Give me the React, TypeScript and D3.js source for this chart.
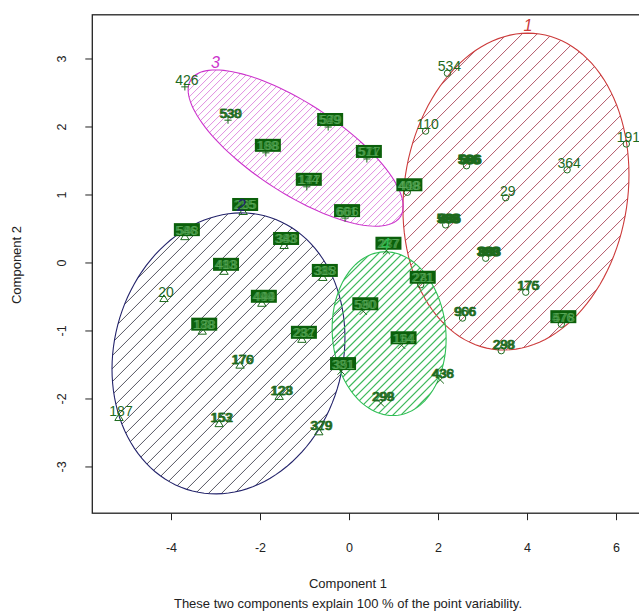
import React from "react";
import * as d3 from "d3";

const W = 639;
const H = 614;

const xTicks = [-4, -2, 0, 2, 4, 6];
const yTicks = [-3, -2, -1, 0, 1, 2, 3];
const xTitle = "Component 1";
const yTitle = "Component 2";
const subTitle = "These two components explain 100 % of the point variability.";

// clusters
const clusterIds = ["1", "2", "3", "4"];
const ellipseCx = [3.74, -2.72, -1.21, 0.89];
const ellipseCy = [1.05, -1.33, 1.69, -1.04];
const ellipseSxx = [6.45, 6.85, 5.84, 1.64];
const ellipseSyy = [5.43, 4.27, 1.32, 1.45];
const ellipseSxy = [0.63, 0.6, -2.07, -0.1];

const clusterColors = ["#cc3b3b", "#23236b", "#cc33cc", "#2fbf55"];
const hatchColors = ["#a03045", "#2a2a3a", "#d25ed2", "#3cb85a"];
const hatchSpacing = [15, 13, 7, 8];
const hatchWidths = [0.8, 0.8, 0.7, 1.2];

// points
const pointX = [2.2, 1.71, 6.22, 4.89, 3.51, 2.63, 1.3, 2.16, 3.06, 1.6, 3.96, 2.54, 4.76, 3.41,
  0.83, 0.31, 1.17, -0.19, 2.04, 0.7,
  -3.7, -2.73, -1.88, -0.48, -0.96, 0.39, -0.1,
  -2.39, -3.7, -2.82, -1.47, -1.97, -0.6, -4.17, -3.31, -2.46, -1.07, -1.58, -2.93, -0.69, -5.18];
const pointY = [2.79, 1.94, 1.75, 1.37, 0.96, 1.43, 1.04, 0.56, 0.07, -0.32, -0.43, -0.81, -0.9, -1.29,
  0.18, -0.71, -1.21, -1.59, -1.72, -2.06,
  2.59, 2.1, 1.62, 2.0, 1.12, 1.53, 0.66,
  0.75, 0.38, -0.13, 0.25, -0.6, -0.22, -0.53, -1.01, -1.51, -1.13, -1.97, -2.37, -2.49, -2.28];
const pointCluster = [1, 1, 1, 1, 1, 1, 1, 1, 1, 1, 1, 1, 1, 1,
  4, 4, 4, 4, 4, 4,
  3, 3, 3, 3, 3, 3, 3,
  2, 2, 2, 2, 2, 2, 2, 2, 2, 2, 2, 2, 2, 2];
const pointLabels = [
  ["534"], ["110"], ["191"], ["364"], ["29"], ["566", "586", "686"],
  ["408", "418", "448", "488", "409"], ["588", "688", "486"], ["388", "888", "383"],
  ["221", "241", "271", "281"], ["176", "175"], ["966", "906"],
  ["476", "478", "576", "578"], ["288", "298"],
  ["227", "237", "257", "277"], ["530", "550", "590", "580"], ["114", "144", "154", "164"],
  ["321", "351", "381", "391"], ["436", "438"], ["299", "298"],
  ["426"], ["538", "530"], ["188", "168", "108", "198"], ["529", "549", "569", "579"],
  ["144", "147", "174", "177"], ["511", "517", "571", "577"], ["601", "606", "661", "666"],
  ["225", "235", "255", "265"], ["546", "548", "586", "588"], ["413", "418", "483", "488"],
  ["343", "348", "383", "388"], ["494", "499", "449", "444"], ["315", "318", "385", "388"],
  ["20"], ["188", "178", "138", "168"], ["176", "170"], ["232", "237", "282", "287"],
  ["123", "128"], ["153", "152"], ["329", "379"], ["187"]];

const x = d3.scaleLinear().domain([-5.78, 6.75]).range([92.3, 649.9]);
const y = d3.scaleLinear().domain([-3.68, 3.65]).range([513.2, 14.8]);

const FONT = "'Liberation Sans', Arial, sans-serif";
const PT = "#1d6a1d";

function ellipsePts(i: number): [number, number][] {
  const a = Math.sqrt(ellipseSxx[i]);
  const b = ellipseSxy[i] / a;
  const c = Math.sqrt(ellipseSyy[i] - b * b);
  return d3.range(0, 361, 3).map((deg) => {
    const t = (deg * Math.PI) / 180;
    return [x(ellipseCx[i] + a * Math.cos(t)), y(ellipseCy[i] + b * Math.cos(t) + c * Math.sin(t))];
  });
}

function Symbol({ px, py, cl }: { px: number; py: number; cl: number }) {
  const s = 3.6;
  if (cl === 1) return <circle cx={px} cy={py} r={3.2} fill="none" stroke={PT} strokeWidth={1} />;
  if (cl === 2)
    return (
      <path d={`M${px},${py - s - 0.6}L${px + s + 0.6},${py + s * 0.7}L${px - s - 0.6},${py + s * 0.7}Z`}
        fill="none" stroke={PT} strokeWidth={1} />
    );
  if (cl === 3)
    return <path d={`M${px - s},${py}H${px + s}M${px},${py - s}V${py + s}`} stroke={PT} strokeWidth={1} />;
  return <path d={`M${px - s},${py - s}L${px + s},${py + s}M${px - s},${py + s}L${px + s},${py - s}`} stroke={PT} strokeWidth={1} />;
}

export default function App() {
  const line = d3.line<[number, number]>().curve(d3.curveLinearClosed);
  return (
    <svg width={W} height={H} style={{ position: "absolute", left: 0, top: 0, background: "#fff" }}>
      <defs>
        {clusterIds.map((_, i) => (
          <clipPath id={`ellclip${i}`} key={i}>
            <path d={line(ellipsePts(i)) || ""} />
          </clipPath>
        ))}
        <clipPath id="plotclip">
          <rect x={x(-5.78)} y={y(3.65)} width={x(6.75) - x(-5.78)} height={y(-3.68) - y(3.65)} />
        </clipPath>
      </defs>
      <g clipPath="url(#plotclip)">
        {clusterIds.map((_, i) => {
          const pts = ellipsePts(i);
          const xs = pts.map((p) => p[0]);
          const ys = pts.map((p) => p[1]);
          const minx = d3.min(xs)!, maxx = d3.max(xs)!, miny = d3.min(ys)!, maxy = d3.max(ys)!;
          const ks = d3.range(minx + miny, maxx + maxy, hatchSpacing[i]);
          return (
            <g key={i}>
              <g clipPath={`url(#ellclip${i})`}>
                {ks.map((k, j) => (
                  <line key={j} x1={k - maxy} y1={maxy} x2={k - miny} y2={miny}
                    stroke={hatchColors[i]} strokeWidth={hatchWidths[i]} />
                ))}
              </g>
              <path d={line(pts) || ""} fill="none" stroke={clusterColors[i]} strokeWidth={1.1} />
            </g>
          );
        })}
        {pointX.map((vx, i) => {
          const px = x(vx);
          const py = y(pointY[i]);
          const labs = pointLabels[i];
          const cx = px + 2;
          const base = py - 2;
          return (
            <g key={i}>
              <Symbol px={px} py={py} cl={pointCluster[i]} />
              {labs.length >= 4 ? (
                <g>
                  <rect x={cx - 13} y={py - 14} width={26} height={13} fill="#0b600b" />
                  {labs.map((l, j) => (
                    <text key={j} x={cx + (j % 2) * 1.5 - 0.7} y={base - 0.5} textAnchor="middle"
                      fontFamily={FONT} fontSize={13} fill="#5fae5f" opacity={0.5}>{l}</text>
                  ))}
                </g>
              ) : (
                labs.map((l, j) => (
                  <text key={j} x={cx + j * 1.2} y={base} textAnchor="middle" fontFamily={FONT}
                    fontSize={labs.length === 1 ? 14 : 13} fill={PT} stroke={labs.length > 1 ? PT : "none"}
                    strokeWidth={labs.length > 2 ? 0.9 : 0.4}>{l}</text>
                ))
              )}
            </g>
          );
        })}
        {clusterIds.map((id, i) => {
          const sy = Math.sqrt(ellipseSyy[i]);
          const topX = ellipseCx[i] + ellipseSxy[i] / sy;
          const topY = ellipseCy[i] + sy;
          return (
            <text key={id} x={x(topX)} y={y(topY) - 2} textAnchor="middle" fontFamily={FONT}
              fontStyle="italic" fontSize={16} fill={clusterColors[i]}>{id}</text>
          );
        })}
      </g>
      {/* frame */}
      <rect x={x(-5.78)} y={y(3.65)} width={x(6.75) - x(-5.78)} height={y(-3.68) - y(3.65)}
        fill="none" stroke="#222" strokeWidth={1.3} />
      {/* x axis */}
      {xTicks.map((t) => (
        <g key={t}>
          <line x1={x(t)} x2={x(t)} y1={y(-3.68)} y2={y(-3.68) + 7} stroke="#222" strokeWidth={1} />
          <text x={x(t)} y={552} textAnchor="middle" fontFamily={FONT} fontSize={12.5} fill="#222">{t}</text>
        </g>
      ))}
      {yTicks.map((t) => (
        <g key={t}>
          <line x1={x(-5.78)} x2={x(-5.78) - 7} y1={y(t)} y2={y(t)} stroke="#222" strokeWidth={1} />
          <text transform={`translate(66,${y(t)}) rotate(-90)`} textAnchor="middle" fontFamily={FONT}
            fontSize={12.5} fill="#222">{t}</text>
        </g>
      ))}
      <text x={348} y={588} textAnchor="middle" fontFamily={FONT} fontSize={13} fill="#222">{xTitle}</text>
      <text x={348} y={608} textAnchor="middle" fontFamily={FONT} fontSize={13} fill="#222">{subTitle}</text>
      <text transform={`translate(21,265) rotate(-90)`} textAnchor="middle" fontFamily={FONT} fontSize={13}
        fill="#222">{yTitle}</text>
    </svg>
  );
}
